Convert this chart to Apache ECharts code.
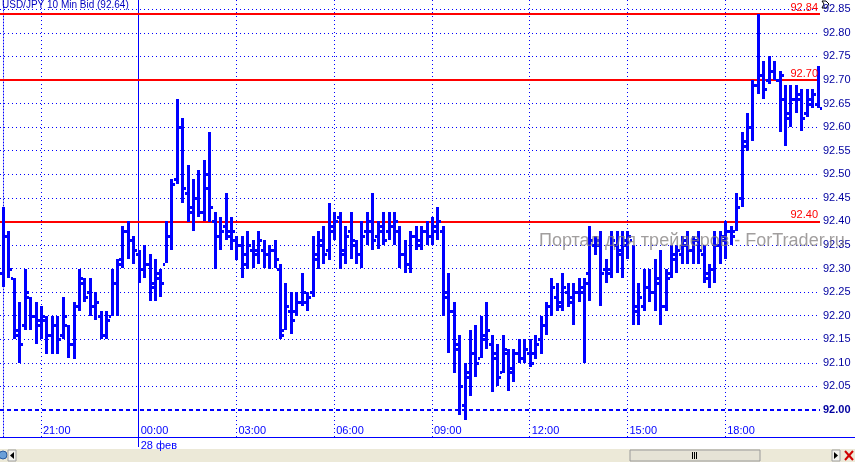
<!DOCTYPE html>
<html>
<head>
<meta charset="utf-8">
<script src="https://cdn.jsdelivr.net/npm/echarts@6/dist/echarts.min.js"></script>
<style>
html, body { margin: 0; padding: 0; background: #fff; }
#chart { width: 855px; height: 462px; }
</style>
</head>
<body>
<div id="chart"></div>
<script>
// USD/JPY, 10 min bars, 19:50 (27 feb) .. 20:50 (28 feb)
const timeLabels = ['21:00', '00:00', '03:00', '06:00', '09:00', '12:00', '15:00', '18:00']
const timeLabelIdx = [7, 25, 43, 61, 79, 97, 115, 133]
const dayIdx = 25
const dayLabel = '28 фев'
const priceTicks = [92.00, 92.05, 92.10, 92.15, 92.20, 92.25, 92.30, 92.35, 92.40,
  92.45, 92.50, 92.55, 92.60, 92.65, 92.70, 92.75, 92.80, 92.85]
const levels = [92.84, 92.70, 92.40]

const opens = [
  92.29, 92.37, 92.28, 92.17, 92.18, 92.24, 92.20, 92.19, 92.19, 92.16,
  92.18, 92.16, 92.18, 92.14, 92.22, 92.27, 92.25, 92.22, 92.20, 92.16,
  92.20, 92.27, 92.32, 92.38, 92.36, 92.33, 92.30, 92.31, 92.26, 92.28,
  92.31, 92.37, 92.49, 92.60, 92.46, 92.43, 92.45, 92.42, 92.47, 92.40,
  92.37, 92.39, 92.37, 92.36, 92.35, 92.33, 92.34, 92.34, 92.34, 92.33,
  92.34, 92.30, 92.17, 92.21, 92.21, 92.23, 92.23, 92.25, 92.32, 92.35,
  92.34, 92.38, 92.41, 92.33, 92.38, 92.35, 92.33, 92.38, 92.38, 92.37,
  92.38, 92.38, 92.39, 92.38, 92.33, 92.31, 92.37, 92.36, 92.38, 92.37,
  92.38, 92.38, 92.25, 92.21, 92.14, 92.01, 92.07, 92.12, 92.11, 92.16,
  92.14, 92.11, 92.08, 92.12, 92.08, 92.12, 92.11, 92.12, 92.12, 92.15,
  92.18, 92.22, 92.24, 92.23, 92.25, 92.23, 92.25, 92.25, 92.29, 92.35,
  92.35, 92.30, 92.30, 92.35, 92.34, 92.35, 92.36, 92.22, 92.22, 92.26,
  92.25, 92.27, 92.22, 92.29, 92.32, 92.33, 92.35, 92.34, 92.36, 92.33,
  92.28, 92.30, 92.35, 92.36, 92.38, 92.38, 92.45, 92.57, 92.60, 92.69,
  92.71, 92.70, 92.72, 92.70, 92.66, 92.63, 92.66, 92.66, 92.63, 92.65,
  92.65
]
const highs = [
  92.43, 92.38, 92.28, 92.23, 92.30, 92.24, 92.23, 92.22, 92.20, 92.20,
  92.20, 92.24, 92.18, 92.23, 92.30, 92.28, 92.28, 92.25, 92.21, 92.21,
  92.30, 92.32, 92.39, 92.40, 92.37, 92.34, 92.35, 92.33, 92.32, 92.30,
  92.40, 92.49, 92.66, 92.62, 92.52, 92.49, 92.51, 92.53, 92.59, 92.42,
  92.41, 92.46, 92.41, 92.37, 92.37, 92.38, 92.36, 92.38, 92.36, 92.35,
  92.36, 92.31, 92.27, 92.25, 92.25, 92.29, 92.25, 92.37, 92.38, 92.39,
  92.44, 92.42, 92.42, 92.39, 92.42, 92.36, 92.40, 92.42, 92.46, 92.40,
  92.42, 92.42, 92.42, 92.39, 92.36, 92.38, 92.39, 92.39, 92.40, 92.41,
  92.43, 92.39, 92.29, 92.23, 92.16, 92.10, 92.17, 92.18, 92.20, 92.23,
  92.16, 92.14, 92.16, 92.13, 92.13, 92.15, 92.15, 92.15, 92.16, 92.20,
  92.23, 92.28, 92.27, 92.29, 92.27, 92.27, 92.28, 92.28, 92.39, 92.37,
  92.38, 92.32, 92.38, 92.38, 92.38, 92.38, 92.35, 92.27, 92.30, 92.30,
  92.32, 92.34, 92.30, 92.35, 92.35, 92.37, 92.38, 92.37, 92.38, 92.35,
  92.31, 92.38, 92.38, 92.40, 92.39, 92.46, 92.59, 92.63, 92.70, 92.84,
  92.74, 92.75, 92.74, 92.72, 92.69, 92.69, 92.69, 92.68, 92.68, 92.68,
  92.73
]
const lows = [
  92.26, 92.28, 92.15, 92.10, 92.17, 92.17, 92.14, 92.15, 92.12, 92.12,
  92.12, 92.15, 92.11, 92.11, 92.21, 92.23, 92.20, 92.19, 92.15, 92.15,
  92.20, 92.20, 92.30, 92.32, 92.31, 92.27, 92.28, 92.23, 92.23, 92.24,
  92.31, 92.34, 92.48, 92.44, 92.40, 92.38, 92.41, 92.40, 92.40, 92.30,
  92.34, 92.36, 92.34, 92.32, 92.28, 92.30, 92.30, 92.31, 92.30, 92.30,
  92.30, 92.15, 92.17, 92.16, 92.20, 92.22, 92.21, 92.24, 92.30, 92.31,
  92.32, 92.36, 92.30, 92.31, 92.32, 92.31, 92.30, 92.35, 92.34, 92.34,
  92.35, 92.36, 92.35, 92.30, 92.29, 92.29, 92.34, 92.34, 92.35, 92.35,
  92.36, 92.20, 92.12, 92.08, 91.99, 91.98, 92.03, 92.07, 92.11, 92.13,
  92.04, 92.05, 92.08, 92.04, 92.06, 92.10, 92.10, 92.09, 92.11, 92.12,
  92.16, 92.20, 92.21, 92.21, 92.22, 92.18, 92.23, 92.10, 92.23, 92.33,
  92.22, 92.27, 92.28, 92.29, 92.28, 92.32, 92.18, 92.18, 92.21, 92.23,
  92.21, 92.18, 92.21, 92.28, 92.29, 92.31, 92.31, 92.31, 92.31, 92.27,
  92.26, 92.27, 92.31, 92.32, 92.35, 92.38, 92.43, 92.55, 92.57, 92.67,
  92.66, 92.69, 92.70, 92.59, 92.56, 92.60, 92.63, 92.59, 92.62, 92.64,
  92.64
]
const closes = [
  92.37, 92.30, 92.16, 92.14, 92.25, 92.20, 92.18, 92.20, 92.16, 92.18,
  92.15, 92.20, 92.14, 92.22, 92.28, 92.24, 92.22, 92.23, 92.16, 92.19,
  92.27, 92.31, 92.38, 92.36, 92.34, 92.30, 92.31, 92.27, 92.29, 92.27,
  92.37, 92.48, 92.60, 92.47, 92.42, 92.45, 92.42, 92.50, 92.43, 92.37,
  92.38, 92.38, 92.38, 92.35, 92.31, 92.35, 92.33, 92.36, 92.33, 92.34,
  92.32, 92.16, 92.22, 92.19, 92.23, 92.25, 92.24, 92.33, 92.36, 92.33,
  92.39, 92.40, 92.34, 92.37, 92.36, 92.33, 92.37, 92.40, 92.36, 92.39,
  92.36, 92.39, 92.40, 92.33, 92.31, 92.37, 92.35, 92.38, 92.37, 92.39,
  92.40, 92.24, 92.21, 92.13, 92.05, 92.08, 92.12, 92.10, 92.15, 92.17,
  92.12, 92.07, 92.13, 92.09, 92.12, 92.11, 92.13, 92.10, 92.14, 92.18,
  92.22, 92.26, 92.22, 92.26, 92.24, 92.25, 92.26, 92.27, 92.36, 92.36,
  92.29, 92.29, 92.36, 92.33, 92.36, 92.37, 92.21, 92.24, 92.26, 92.25,
  92.28, 92.22, 92.28, 92.33, 92.34, 92.36, 92.34, 92.36, 92.34, 92.29,
  92.30, 92.35, 92.37, 92.38, 92.37, 92.43, 92.56, 92.60, 92.69, 92.71,
  92.68, 92.72, 92.70, 92.71, 92.62, 92.66, 92.67, 92.62, 92.66, 92.67,
  92.64
]

const FONT = 'Liberation Sans, Arial, sans-serif'
const BLUE = '#0000ff'

const bars = opens.map((o, i) => [i, o, highs[i], lows[i], closes[i]])

function renderBar(params, api) {
  const i = api.value(0)
  const pO = api.coord([i, api.value(1)])
  const pH = api.coord([i, api.value(2)])
  const pL = api.coord([i, api.value(3)])
  const pC = api.coord([i, api.value(4)])
  const x = Math.round(pH[0])
  const style = { fill: BLUE }
  return {
    type: 'group',
    children: [
      { type: 'rect', shape: { x: x - 1, y: Math.round(pH[1]), width: 3, height: Math.max(3, Math.round(pL[1] - pH[1])) }, style },
      { type: 'rect', shape: { x: x - 3, y: Math.round(pO[1]) - 1, width: 2, height: 3 }, style },
      { type: 'rect', shape: { x: x + 2, y: Math.round(pC[1]) - 1, width: 2, height: 3 }, style }
    ]
  }
}

const dotted = { color: BLUE, width: 1, type: [1, 3] }
const gridLines = []
priceTicks.forEach(v => {
  if (v > 92.001) gridLines.push({ yAxis: v, lineStyle: dotted })
})
timeLabelIdx.forEach(i => {
  if (i !== dayIdx) gridLines.push({ xAxis: i, lineStyle: dotted })
})
gridLines.push({ xAxis: dayIdx, lineStyle: { color: BLUE, width: 1, type: 'solid' } })
gridLines.push({ yAxis: 92.00, lineStyle: { color: BLUE, width: 2, type: [4, 3] } })

const levelLines = levels.map(v => ({
  yAxis: v,
  lineStyle: { color: '#ff0000', width: 2, type: 'solid' },
  label: {
    show: true,
    position: 'insideEndTop',
    formatter: v.toFixed(2),
    color: '#ff0000',
    fontFamily: FONT,
    fontSize: 11,
    distance: [2, 1]
  }
}))

const myChart = echarts.init(document.getElementById('chart'))
const option = {
  animation: false,
  backgroundColor: '#ffffff',
  title: {
    text: 'USD/JPY 10 Min Bid (92.64)',
    left: 2,
    top: 0,
    padding: 0,
    textStyle: { color: '#0000c0', fontSize: 10, fontWeight: 'normal', fontFamily: FONT }
  },
  grid: { left: 0, right: 35, top: 0, bottom: 25, containLabel: false },
  xAxis: [
    {
      type: 'value',
      min: -0.55,
      max: 150.45,
      axisLine: { show: true, lineStyle: { color: BLUE, width: 1 } },
      axisTick: { show: false },
      splitLine: { show: false },
      axisLabel: {
        customValues: timeLabelIdx,
        inside: true,
        margin: 1,
        align: 'left',
        padding: [0, 0, 0, 2],
        color: BLUE,
        fontFamily: FONT,
        fontSize: 11,
        formatter: v => timeLabels[timeLabelIdx.indexOf(Math.round(v))] || ''
      }
    },
    {
      type: 'value',
      position: 'bottom',
      min: -0.55,
      max: 150.45,
      axisLine: { show: false },
      axisTick: { show: true, customValues: [dayIdx], length: 10, lineStyle: { color: BLUE, width: 1 } },
      splitLine: { show: false },
      axisLabel: {
        customValues: [dayIdx],
        margin: 3,
        align: 'left',
        padding: [0, 0, 0, 2],
        color: BLUE,
        fontFamily: FONT,
        fontSize: 11,
        formatter: () => dayLabel
      }
    }
  ],
  yAxis: {
    type: 'value',
    position: 'right',
    min: 91.9427,
    max: 92.8697,
    axisLine: { show: true, lineStyle: { color: BLUE, width: 1, type: [1, 2] } },
    axisTick: { show: false },
    splitLine: { show: false },
    axisLabel: {
      customValues: priceTicks,
      margin: 3,
      color: '#0000a0',
      fontFamily: FONT,
      fontSize: 11,
      formatter: v => (Math.abs(v - 92) < 0.001 ? '{b|' + v.toFixed(2) + '}' : v.toFixed(2)),
      rich: { b: { fontWeight: 'bold', color: '#0000a0', fontFamily: FONT, fontSize: 11 } }
    }
  },
  series: [
    {
      type: 'line',
      data: [],
      silent: true,
      z: 1,
      markLine: { silent: true, symbol: 'none', label: { show: false }, data: gridLines }
    },
    {
      type: 'custom',
      renderItem: renderBar,
      data: bars,
      encode: { x: 0, y: [1, 2, 3, 4] },
      z: 5
    },
    {
      type: 'line',
      data: [],
      silent: true,
      z: 8,
      markLine: { silent: true, symbol: 'none', data: levelLines }
    }
  ],
  graphic: [
    {
      type: 'text',
      left: 539,
      top: 232,
      z: 20,
      style: {
        text: 'Портал для трейдеров - ForTrader.ru',
        fill: 'rgba(130,125,125,0.75)',
        font: '18px Liberation Sans, Arial, sans-serif'
      }
    },
    { type: 'line', shape: { x1: 820, y1: 437.5, x2: 855, y2: 437.5 }, style: { stroke: BLUE, lineWidth: 1 } },
    // small marker icon over the top price label
    { type: 'polygon', shape: { points: [[822, 1], [826, 1], [829, 4], [826, 8], [822, 8], [824, 4]] }, style: { fill: '#ffffff', stroke: '#000000', lineWidth: 1 } },
    // scroll bar
    { type: 'rect', shape: { x: 0, y: 449, width: 855, height: 13 }, style: { fill: '#ece9d8' } },
    { type: 'circle', shape: { cx: 3, cy: 455, r: 4 }, style: { fill: '#6a9fd8', stroke: '#2a5aa0' } },
    { type: 'rect', shape: { x: 8, y: 450, width: 8, height: 11 }, style: { fill: '#f4f3ee', stroke: '#a0a0a0' } },
    { type: 'polygon', shape: { points: [[10, 455.5], [14, 452], [14, 459]] }, style: { fill: '#000' } },
    { type: 'rect', shape: { x: 630, y: 450, width: 130, height: 11 }, style: { fill: '#e6e3d6', stroke: '#9a9a9a' } },
    { type: 'rect', shape: { x: 692, y: 452, width: 1, height: 7 }, style: { fill: '#000' } },
    { type: 'rect', shape: { x: 694, y: 452, width: 1, height: 7 }, style: { fill: '#000' } },
    { type: 'rect', shape: { x: 696, y: 452, width: 1, height: 7 }, style: { fill: '#000' } },
    { type: 'rect', shape: { x: 832, y: 450, width: 8, height: 11 }, style: { fill: '#f4f3ee', stroke: '#a0a0a0' } },
    { type: 'polygon', shape: { points: [[838, 455.5], [834, 452], [834, 459]] }, style: { fill: '#000' } },
    { type: 'line', shape: { x1: 845, y1: 451, x2: 853, y2: 460 }, style: { stroke: '#d00000', lineWidth: 2 } },
    { type: 'line', shape: { x1: 853, y1: 451, x2: 845, y2: 460 }, style: { stroke: '#d00000', lineWidth: 2 } }
  ]
}
myChart.setOption(option)
</script>
</body>
</html>
